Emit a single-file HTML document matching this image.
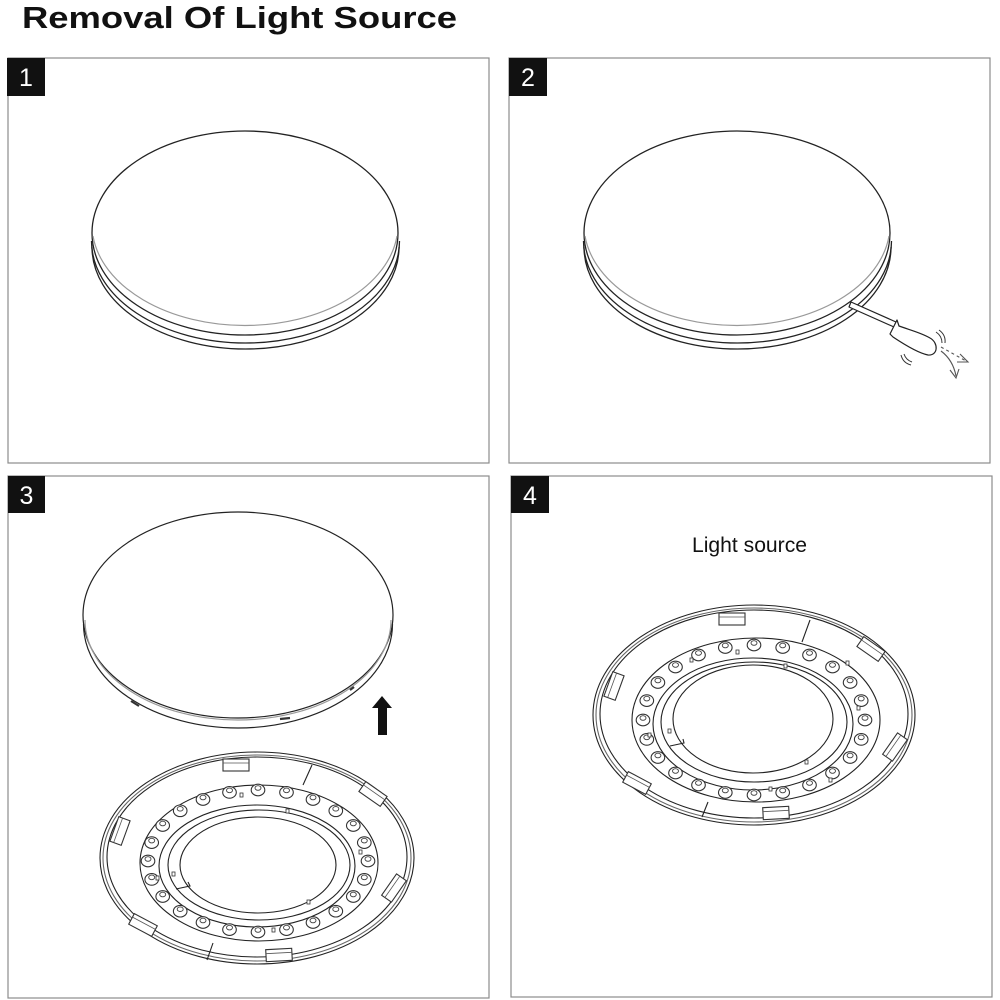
<!DOCTYPE html>
<html>
<head>
<meta charset="utf-8">
<style>
  html,body{margin:0;padding:0;background:#fff;}
  svg{display:block;}
</style>
</head>
<body>
<svg width="1000" height="1000" viewBox="0 0 1000 1000" xmlns="http://www.w3.org/2000/svg">
  <defs>
    <g id="led">
      <ellipse cx="0" cy="0" rx="6.8" ry="5.8" fill="#fff" stroke="#333" stroke-width="1.1"/>
      <ellipse cx="0" cy="-2" rx="3" ry="2.3" fill="none" stroke="#444" stroke-width="0.9"/>
    </g>
    <g id="tab">
      <rect x="-13" y="-6" width="26" height="12" fill="#fff" stroke="#333" stroke-width="1.1"/>
      <line x1="-13" y1="-2" x2="13" y2="-2" stroke="#555" stroke-width="0.8"/>
    </g>
  </defs>

  <!-- Title -->
  <text x="22" y="28" font-family="Liberation Sans, Arial, sans-serif" font-weight="bold" font-size="31" fill="#111" textLength="435" lengthAdjust="spacingAndGlyphs">Removal Of Light Source</text>

  <!-- Panel frames -->
  <g fill="none" stroke="#8c8c8c" stroke-width="1.2">
    <rect x="8" y="58" width="481" height="405"/>
    <rect x="509" y="58" width="481" height="405"/>
    <rect x="8" y="476" width="481" height="522"/>
    <rect x="511" y="476" width="481" height="521"/>
  </g>

  <!-- Number boxes -->
  <g fill="#111">
    <rect x="7" y="58" width="38" height="38"/>
    <rect x="509" y="58" width="38" height="38"/>
    <rect x="8" y="476" width="37" height="37"/>
    <rect x="511" y="476" width="38" height="37"/>
  </g>
  <g fill="#fff" font-family="Liberation Sans, Arial, sans-serif" font-size="25" text-anchor="middle">
    <text x="26" y="86">1</text>
    <text x="528" y="86">2</text>
    <text x="26.5" y="504">3</text>
    <text x="530" y="504">4</text>
  </g>

  <!-- Panel 1 disc -->
  <g fill="none" stroke="#222" stroke-width="1.3">
    <ellipse cx="245" cy="233" rx="153" ry="102" fill="#fff"/>
    <path d="M 93 236 A 153 101 0 0 0 397 236" stroke="#999" stroke-width="1.2"/>
    <path d="M 91.5 241 A 154 102 0 0 0 399.5 241"/>
    <path d="M 92 247 A 153.5 102 0 0 0 399 247"/>
  </g>

  <!-- Panel 2 disc -->
  <g fill="none" stroke="#222" stroke-width="1.3">
    <ellipse cx="737" cy="233" rx="153" ry="102" fill="#fff"/>
    <path d="M 585 236 A 153 101 0 0 0 889 236" stroke="#999" stroke-width="1.2"/>
    <path d="M 583.5 241 A 154 102 0 0 0 891.5 241"/>
    <path d="M 584 247 A 153.5 102 0 0 0 891 247"/>
  </g>
  <!-- Screwdriver -->
  <g fill="#fff" stroke="#222" stroke-width="1.2" stroke-linejoin="round">
    <polygon points="851,302 896,322 894,327 849,307"/>
    <path d="M 897 320 L 899 326 C 910 330, 922 333, 930 338 C 939 343, 938 356, 928 355 C 918 353, 905 345, 893 337 L 890 334 Z"/>
  </g>
  <g fill="none" stroke="#333" stroke-width="1">
    <path d="M 936 332 Q 942 336 942 343"/>
    <path d="M 939 330 Q 946 335 945 343"/>
    <path d="M 904 354 Q 906 360 912 362"/>
    <path d="M 901 355 Q 903 363 911 365"/>
  </g>
  <g fill="none" stroke="#555" stroke-width="1.1">
    <path d="M 941 347 L 966 361" stroke-dasharray="3,3"/>
    <path d="M 960 354 L 968 362 L 957 362"/>
    <path d="M 941 351 Q 953 360 956 376" />
    <path d="M 950 370 L 956 378 L 959 369"/>
  </g>

  <!-- Panel 3 top disc -->
  <g fill="none" stroke="#222" stroke-width="1.2">
    <ellipse cx="238" cy="615" rx="155" ry="103" fill="#fff"/>
    <path d="M 85 620 A 153 100 0 0 0 391 620" stroke="#999"/>
    <path d="M 83.5 624 A 154.5 104 0 0 0 392.5 624"/>
  </g>
  <g stroke="#333" stroke-width="2.2">
    <line x1="131" y1="701" x2="139" y2="706"/>
    <line x1="280" y1="719" x2="290" y2="718"/>
    <line x1="350" y1="690" x2="354" y2="687"/>
  </g>
  <!-- Arrow up -->
  <polygon points="382,696 392,708 387,708 387,735 378,735 378,708 372,708" fill="#111"/>

  <!-- Panel 3 base -->
  <g fill="none" stroke="#222" stroke-width="1.1">
    <ellipse cx="257" cy="858" rx="157" ry="106" fill="#fff"/>
    <ellipse cx="257" cy="858" rx="154" ry="103" stroke="#666"/>
    <ellipse cx="257" cy="857" rx="150" ry="100"/>
    <ellipse cx="259" cy="863" rx="119" ry="78"/>
    <ellipse cx="257" cy="866" rx="98" ry="61"/>
    <ellipse cx="259" cy="865" rx="91" ry="55"/>
    <ellipse cx="258" cy="865" rx="78" ry="48"/>
    <line x1="312" y1="765" x2="303" y2="785"/>
    <line x1="213" y1="943" x2="207" y2="960"/>
    <path d="M 176 889 L 190 886 L 188 882"/>
  </g>
  <use href="#tab" transform="translate(236,765)"/>
  <use href="#tab" transform="translate(373,794) rotate(35)"/>
  <use href="#tab" transform="translate(120,831) rotate(-70)"/>
  <use href="#tab" transform="translate(394,888) rotate(-55)"/>
  <use href="#tab" transform="translate(143,925) rotate(28)"/>
  <use href="#tab" transform="translate(279,955) rotate(-3)"/>
  <g>
    <use href="#led" x="368" y="861"/>
    <use href="#led" x="364.3" y="879.4"/>
    <use href="#led" x="353.3" y="896.5"/>
    <use href="#led" x="335.8" y="911.2"/>
    <use href="#led" x="313" y="922.5"/>
    <use href="#led" x="286.5" y="929.6"/>
    <use href="#led" x="258" y="932"/>
    <use href="#led" x="229.5" y="929.6"/>
    <use href="#led" x="203" y="922.5"/>
    <use href="#led" x="180.2" y="911.2"/>
    <use href="#led" x="162.7" y="896.5"/>
    <use href="#led" x="151.7" y="879.4"/>
    <use href="#led" x="148" y="861"/>
    <use href="#led" x="151.7" y="842.6"/>
    <use href="#led" x="162.7" y="825.5"/>
    <use href="#led" x="180.2" y="810.8"/>
    <use href="#led" x="203" y="799.5"/>
    <use href="#led" x="229.5" y="792.4"/>
    <use href="#led" x="258" y="790"/>
    <use href="#led" x="286.5" y="792.4"/>
    <use href="#led" x="313" y="799.5"/>
    <use href="#led" x="335.8" y="810.8"/>
    <use href="#led" x="353.3" y="825.5"/>
    <use href="#led" x="364.3" y="842.6"/>
  </g>
  <g fill="#fff" stroke="#333" stroke-width="0.8">
    <rect x="240" y="793" width="3" height="4"/>
    <rect x="286" y="809" width="3" height="4"/>
    <rect x="156" y="876" width="3" height="4"/>
    <rect x="172" y="872" width="3" height="4"/>
    <rect x="307" y="900" width="3" height="4"/>
    <rect x="272" y="928" width="3" height="4"/>
    <rect x="359" y="850" width="3" height="4"/>
  </g>

  <!-- Panel 4 text -->
  <text x="692" y="552" font-family="Liberation Sans, Arial, sans-serif" font-size="21" fill="#111" textLength="115" lengthAdjust="spacingAndGlyphs">Light source</text>

  <!-- Panel 4 base -->
  <g fill="none" stroke="#222" stroke-width="1.1">
    <ellipse cx="754" cy="715" rx="161" ry="110" fill="#fff"/>
    <ellipse cx="754" cy="715" rx="158" ry="107" stroke="#666"/>
    <ellipse cx="754" cy="714" rx="154" ry="104"/>
    <ellipse cx="756" cy="720" rx="124" ry="82"/>
    <ellipse cx="753" cy="724" rx="100" ry="66"/>
    <ellipse cx="754" cy="722" rx="93" ry="60"/>
    <ellipse cx="753" cy="719" rx="80" ry="54"/>
    <line x1="810" y1="620" x2="802" y2="642"/>
    <line x1="708" y1="802" x2="702" y2="817"/>
    <path d="M 670 746 L 684 743 L 683 739"/>
  </g>
  <use href="#tab" transform="translate(732,619)"/>
  <use href="#tab" transform="translate(871,649) rotate(35)"/>
  <use href="#tab" transform="translate(614,686) rotate(-70)"/>
  <use href="#tab" transform="translate(895,747) rotate(-55)"/>
  <use href="#tab" transform="translate(637,783) rotate(28)"/>
  <use href="#tab" transform="translate(776,813) rotate(-3)"/>
  <g>
    <use href="#led" x="865" y="720"/>
    <use href="#led" x="861.2" y="739.4"/>
    <use href="#led" x="850.1" y="757.5"/>
    <use href="#led" x="832.5" y="773"/>
    <use href="#led" x="809.5" y="785"/>
    <use href="#led" x="782.7" y="792.5"/>
    <use href="#led" x="754" y="795"/>
    <use href="#led" x="725.3" y="792.5"/>
    <use href="#led" x="698.5" y="785"/>
    <use href="#led" x="675.5" y="773"/>
    <use href="#led" x="657.9" y="757.5"/>
    <use href="#led" x="646.8" y="739.4"/>
    <use href="#led" x="643" y="720"/>
    <use href="#led" x="646.8" y="700.6"/>
    <use href="#led" x="657.9" y="682.5"/>
    <use href="#led" x="675.5" y="667"/>
    <use href="#led" x="698.5" y="655"/>
    <use href="#led" x="725.3" y="647.5"/>
    <use href="#led" x="754" y="645"/>
    <use href="#led" x="782.7" y="647.5"/>
    <use href="#led" x="809.5" y="655"/>
    <use href="#led" x="832.5" y="667"/>
    <use href="#led" x="850.1" y="682.5"/>
    <use href="#led" x="861.2" y="700.6"/>
  </g>
  <g fill="#fff" stroke="#333" stroke-width="0.8">
    <rect x="736" y="650" width="3" height="4"/>
    <rect x="784" y="664" width="3" height="4"/>
    <rect x="690" y="658" width="3" height="4"/>
    <rect x="648" y="733" width="3" height="4"/>
    <rect x="668" y="729" width="3" height="4"/>
    <rect x="805" y="760" width="3" height="4"/>
    <rect x="769" y="787" width="3" height="4"/>
    <rect x="829" y="778" width="3" height="4"/>
    <rect x="857" y="706" width="3" height="4"/>
    <rect x="846" y="661" width="3" height="4"/>
  </g>
</svg>
</body>
</html>
